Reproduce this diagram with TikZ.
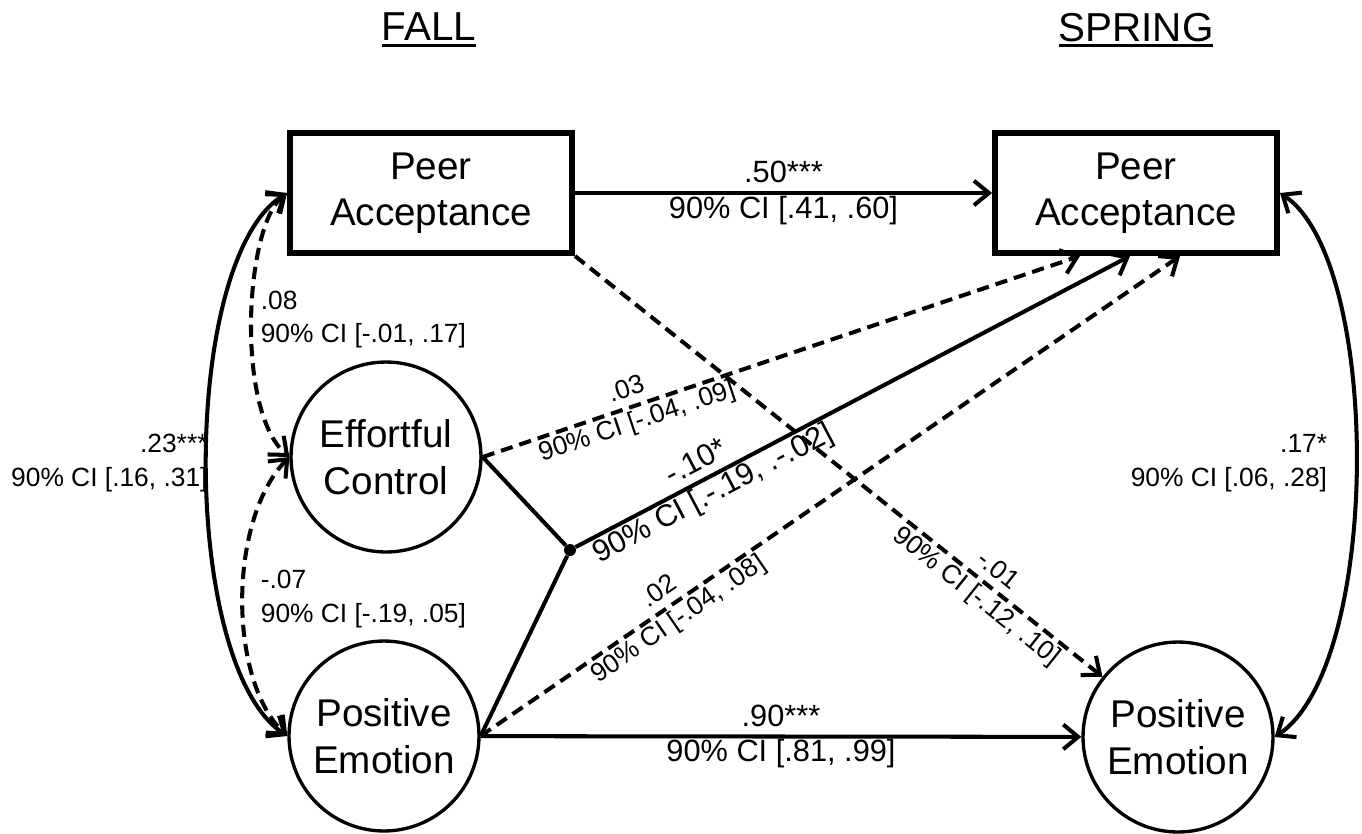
\documentclass[tikz,border=0pt]{standalone}
\usepackage{fontspec}
\setmainfont{Liberation Sans}
\usepackage{tikz}
\usetikzlibrary{shapes,arrows.meta,calc}
\newcommand{\onderlijn}[1]{\setbox0=\hbox{#1}\rlap{\rule[-3.4pt]{\wd0}{1.6pt}}\box0}
\tikzstyle{block} = [rectangle, draw, line width=3.4pt, minimum width=5.64cm,
minimum height=2.4cm, align=center, font=\fontsize{22}{26.5}\selectfont]
\tikzstyle{latent} = [circle, draw, line width=1.9pt, minimum size=3.8cm,
inner sep=0pt, align=center, font=\fontsize{22}{26.5}\selectfont]
\tikzstyle{punt} = [circle, fill, inner sep=0pt, minimum size=0.24cm]
\tikzstyle{line} = [draw, line width=2.3pt]
\tikzstyle{streep} = [dash pattern=on 7pt off 4pt]
\tikzstyle{pijltje} = [line, -{Straight Barb[length=8.5pt,width=14pt]}]
\tikzstyle{dubbel} = [line, {Straight Barb[length=8.5pt,width=14pt]}-{Straight Barb[length=8.5pt,width=14pt]}]
\tikzstyle{coef} = [align=center, inner sep=1pt, font=\fontsize{17.5}{20}\selectfont]
\tikzstyle{klein} = [align=center, inner sep=1pt, font=\fontsize{15}{19}\selectfont]
\tikzstyle{kop} = [font=\fontsize{23}{26}\selectfont]

\begin{document}
\begin{tikzpicture}[x=0.02cm, y=-0.02cm]
	\useasboundingbox (0,0) rectangle (1362,833);
	
	\node [kop] (fall) at (429,30) {\onderlijn{FALL}};
	\node [kop] (spring) at (1136,30) {\onderlijn{SPRING}};
	
	
	\node [block] (pafall) at (431,193) {Peer\\ Acceptance};
	\node [latent] (ecfall) at (386,457) {Effortful\\ Control};
	\node [latent] (pefall) at (384,736) {Positive\\ Emotion};
	
	\node [block] (paspring) at (1136,193) {Peer\\ Acceptance};
	\node [latent] (pespring) at (1178,737) {Positive\\ Emotion};
	
	\node [punt] (knoop) at (570,550) {};
	
	\coordinate (doel1) at ($(paspring.south)+(-56,0)$);
	\coordinate (doel2) at ($(paspring.south)+(-6,0)$);
	\coordinate (doel3) at ($(paspring.south)+(44,0)$);
	
	
	\path [pijltje] (pafall)--node [coef] {.50***\\ 90\% CI [.41, .60]} (paspring);
	\path [pijltje] (pefall)--node [coef] {.90***\\ 90\% CI [.81, .99]} (pespring);
	
	
	\path [line] (ecfall.east)--(knoop);
	\path [line] (pefall.east)--(knoop);
	\path [pijltje] (knoop)--node [coef, sloped, pos=0.234] {-.10*\\ 90\% CI [.-.19, .-.02]} (doel2);
	
	
	\path [pijltje, streep] (ecfall.east)--node [klein, sloped, pos=0.25] {.03\\ 90\% CI [-.04, .09]} (doel1);
	\path [pijltje, streep] (pefall.east)--node [klein, sloped, pos=0.27] {.02\\ 90\% CI [-.04, .08]} (doel3);
	\path [pijltje, streep] (pafall.south east)--node [klein, sloped, pos=0.78] {-.01\\ 90\% CI [-.12, .10]} (pespring);
	
	
	\path [dubbel] (pafall.west) .. controls (180,260) and (180,665) .. node [klein, align=right, anchor=east, pos=0.5, xshift=0.09cm] {.23***\\ 90\% CI [.16, .31]} (pefall.west);
	\path [dubbel, streep] (pafall.west) .. controls (245,225) and (235,410) .. node [klein, align=left, anchor=west, pos=0.5, xshift=0.1cm] {.08\\ 90\% CI [-.01, .17]} (ecfall.west);
	\path [dubbel, streep] (ecfall.west) .. controls (228,520) and (228,680) .. node [klein, align=left, anchor=west, pos=0.5, xshift=0.28cm] {-.07\\ 90\% CI [-.19, .05]} (pefall.west);
	\path [dubbel] (paspring.east) .. controls (1382,260) and (1382,665) .. node [klein, align=right, anchor=east, pos=0.5, xshift=-0.5cm] {.17*\\ 90\% CI [.06, .28]} (pespring.east);
\end{tikzpicture}
\end{document}
